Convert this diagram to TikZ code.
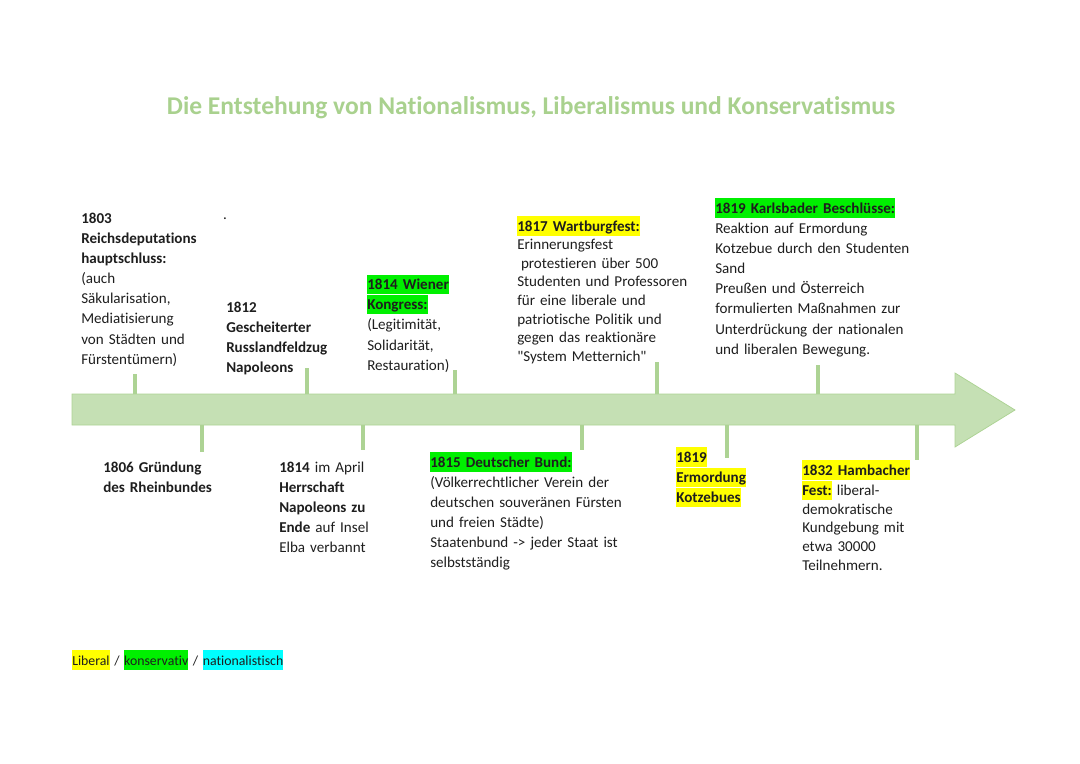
\documentclass[tikz,border=0pt]{standalone}
\usepackage{fontspec}
\setmainfont{Carlito}[Ligatures={TeXOff,CommonOff}]
\usepackage{tikz}

\definecolor{titlegreen}{HTML}{A9D18E}
\definecolor{barfill}{HTML}{C5E0B4}
\definecolor{barline}{HTML}{ADD394}
\definecolor{hlyellow}{HTML}{FFFF00}
\definecolor{hlgreen}{HTML}{00F000}
\definecolor{hlcyan}{HTML}{00FFFF}
\definecolor{ink}{HTML}{1E1E1E}
\newcommand{\hlt}[2]{{\setlength{\fboxsep}{0pt}\colorbox{#1}{\rule[-3.6pt]{0pt}{15pt}#2}}}

\begin{document}
\begin{tikzpicture}[x=0.275mm, y=-0.275mm, every node/.style={ink},
	event/.style={anchor=base west, inner sep=0pt, align=left, text width=66mm, font=\fontsize{11.8pt}{15.8pt}\selectfont},
	tight/.style={font=\fontsize{11.8pt}{14.6pt}\selectfont},
	stem/.style={draw=barline, line width=3pt}]
	\useasboundingbox (0,0) rectangle (1080,763);

	\node[font=\fontsize{20pt}{24pt}\selectfont\bfseries, text=titlegreen, anchor=base] (title) at (531,114) {Die Entstehung von Nationalismus, Liberalismus und Konservatismus};

	\filldraw[fill=barfill, draw=barline, line width=0.6pt] (72,394)--(955,394)--(955,373)--(1015,410)--(955,447)--(955,425)--(72,425)--cycle;

	\coordinate (s1803) at (135,394);
	\coordinate (s1812) at (307,394);
	\coordinate (s1814w) at (455,394);
	\coordinate (s1817) at (657,394);
	\coordinate (s1819k) at (818,394);
	\coordinate (s1806) at (202,425);
	\coordinate (s1814a) at (363,425);
	\coordinate (s1815) at (582,425);
	\coordinate (s1819e) at (727,425);
	\coordinate (s1832) at (917,425);

	\draw[stem] (s1803)--++(0,-20);
	\draw[stem] (s1812)--++(0,-26);
	\draw[stem] (s1814w)--++(0,-24);
	\draw[stem] (s1817)--++(0,-32);
	\draw[stem] (s1819k)--++(0,-29);
	\draw[stem] (s1806)--++(0,27);
	\draw[stem] (s1814a)--++(0,25);
	\draw[stem] (s1815)--++(0,25);
	\draw[stem] (s1819e)--++(0,33);
	\draw[stem] (s1832)--++(0,35);

	\node[event] (e1803) at (81,223) {\textbf{1803}\\\textbf{Reichsdeputations}\\\textbf{hauptschluss:}\\(auch\\Säkularisation,\\Mediatisierung\\von Städten und\\Fürstentümern)};
	\node[anchor=base, inner sep=0pt, font=\fontsize{11.8pt}{15.8pt}\selectfont] (dot) at (225,219) {.};
	\node[event] (e1812) at (226,312) {\textbf{1812}\\\textbf{Gescheiterter}\\\textbf{Russlandfeldzug}\\\textbf{Napoleons}};
	\node[event] (e1814w) at (367,289.5) {\hlt{hlgreen}{\textbf{1814 Wiener}}\\\hlt{hlgreen}{\textbf{Kongress:}}\\(Legitimität,\\Solidarität,\\Restauration)};
	\node[event, tight] (e1817) at (517,231) {\hlt{hlyellow}{\textbf{1817 Wartburgfest:}}\\Erinnerungsfest\\\hspace*{0.25em}protestieren über 500\\Studenten und Professoren\\für eine liberale und\\patriotische Politik und\\gegen das reaktionäre\\"System Metternich"};
	\node[event] (e1819k) at (715,213) {\hlt{hlgreen}{\textbf{1819 Karlsbader Beschlüsse:}}\\Reaktion auf Ermordung\\Kotzebue durch den Studenten\\Sand\\Preußen und Österreich\\formulierten Maßnahmen zur\\Unterdrückung der nationalen\\und liberalen Bewegung.};

	\node[event] (e1806) at (103,472) {\textbf{1806 Gründung}\\\textbf{des Rheinbundes}};
	\node[event] (e1814a) at (279,472) {\textbf{1814} im April\\\textbf{Herrschaft}\\\textbf{Napoleons zu}\\\textbf{Ende} auf Insel\\Elba verbannt};
	\node[event] (e1815) at (430,467) {\hlt{hlgreen}{\textbf{1815 Deutscher Bund:}}\\(Völkerrechtlicher Verein der\\deutschen souveränen Fürsten\\und freien Städte)\\Staatenbund -> jeder Staat ist\\selbstständig};
	\node[event] (e1819e) at (676,462) {\hlt{hlyellow}{\textbf{1819}}\\\hlt{hlyellow}{\textbf{Ermordung}}\\\hlt{hlyellow}{\textbf{Kotzebues}}};
	\node[event, tight] (e1832) at (802,475) {\hlt{hlyellow}{\textbf{1832 Hambacher}}\\\hlt{hlyellow}{\textbf{Fest:}} liberal-\\demokratische\\Kundgebung mit\\etwa 30000\\Teilnehmern.};

	\node[event, font=\fontsize{10.8pt}{14pt}\selectfont] (legend) at (72,665) {\hlt{hlyellow}{Liberal} / \hlt{hlgreen}{konservativ} / \hlt{hlcyan}{nationalistisch}};
\end{tikzpicture}
\end{document}
